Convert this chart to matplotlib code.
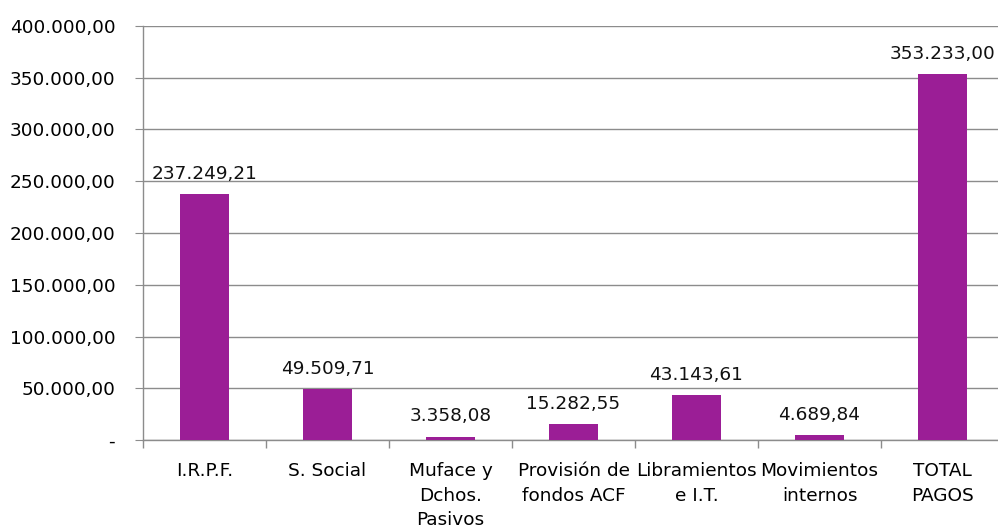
import matplotlib
matplotlib.use("Agg")
import matplotlib.pyplot as plt
from matplotlib.ticker import FixedLocator, FuncFormatter

categories = ["I.R.P.F.", "S. Social", "Muface y\nDchos.\nPasivos",
              "Provisión de\nfondos ACF", "Libramientos\ne I.T.",
              "Movimientos\ninternos", "TOTAL\nPAGOS"]
values = [237249.21, 49509.71, 3358.08, 15282.55, 43143.61, 4689.84, 353233.00]

BAR_COLOR = "#9B1E96"
GRID_COLOR = "#8C8C8C"
FS = 13.3


def es_format(v, pos=None):
    if v == 0:
        return "-"
    s = f"{v:,.2f}"
    return s.replace(",", "X").replace(".", ",").replace("X", ".")


plt.rcParams['font.family'] = ['DejaVu Sans']

fig = plt.figure(figsize=(9.98, 5.26), dpi=100)
ax = fig.add_axes([143 / 998, 1 - 440 / 526, 861 / 998, 414 / 526])

x = list(range(len(categories)))
ax.bar(x, values, width=0.4, color=BAR_COLOR, zorder=3)

for xi, v in zip(x, values):
    ax.annotate(es_format(v), (xi, v), xytext=(0, 8), textcoords="offset points",
                ha="center", va="bottom", fontsize=FS, color="#111111")

ax.set_xlim(-0.5, len(categories) - 0.5)
ax.set_ylim(0, 400000)
ax.yaxis.set_major_locator(FixedLocator([i * 50000 for i in range(9)]))
ax.yaxis.set_major_formatter(FuncFormatter(es_format))
ax.grid(axis="y", color=GRID_COLOR, linewidth=1, zorder=0)

ax.set_xticks(x)
ax.set_xticklabels(categories, fontsize=FS, linespacing=1.45)
ax.set_xticks([i - 0.5 for i in range(len(categories) + 1)], minor=True)
ax.tick_params(axis="x", which="major", length=0, pad=16)
ax.tick_params(axis="x", which="minor", length=6, color=GRID_COLOR, width=1)
ax.tick_params(axis="y", length=6, color=GRID_COLOR, labelsize=FS, pad=14)

for side in ("top", "right"):
    ax.spines[side].set_visible(False)
for side in ("left", "bottom"):
    ax.spines[side].set_color(GRID_COLOR)
    ax.spines[side].set_linewidth(1)

fig.savefig("out.png", dpi=100)
